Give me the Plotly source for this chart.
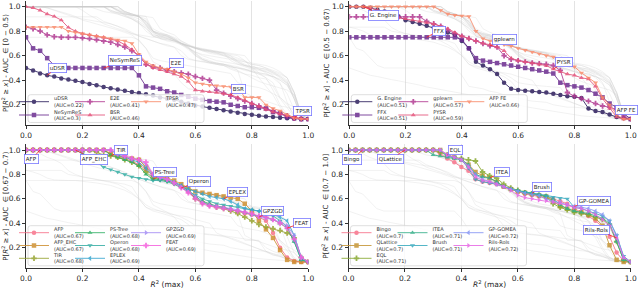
import plotly.graph_objects as go

# ---------------- data ----------------
X_GRID = [0.0, 0.025, 0.05, 0.075, 0.1, 0.125, 0.15, 0.175, 0.2, 0.225,
          0.25, 0.275, 0.3, 0.325, 0.35, 0.375, 0.4, 0.425, 0.45, 0.475,
          0.5, 0.525, 0.55, 0.575, 0.6, 0.625, 0.65, 0.675, 0.7, 0.725,
          0.75, 0.775, 0.8, 0.825, 0.85, 0.875, 0.9, 0.925, 0.95, 0.975, 1.0]
X_TICKS = [0.0, 0.2, 0.4, 0.6, 0.8, 1.0]
Y_TICKS = [0.2, 0.4, 0.6, 0.8, 1.0]

UDSR = [0.50, 0.48, 0.455, 0.44, 0.43, 0.415, 0.405, 0.395, 0.385, 0.37,
        0.36, 0.345, 0.335, 0.325, 0.315, 0.305, 0.295, 0.285, 0.275, 0.26,
        0.25, 0.24, 0.225, 0.21, 0.195, 0.185, 0.175, 0.165, 0.155, 0.145,
        0.135, 0.125, 0.118, 0.11, 0.105, 0.1, 0.095, 0.09, 0.088, 0.085, 0.083]
NESYMRES = [0.75, 0.66, 0.64, 0.58, 0.52, 0.5, 0.5, 0.5, 0.5, 0.5,
            0.5, 0.5, 0.5, 0.5, 0.5, 0.5, 0.44, 0.35, 0.34, 0.33,
            0.31, 0.3, 0.28, 0.265, 0.25, 0.24, 0.23, 0.225, 0.22, 0.2,
            0.19, 0.18, 0.18, 0.175, 0.17, 0.14, 0.13, 0.1, 0.09, 0.083, 0.083]
E2E = [0.833, 0.82, 0.8, 0.77, 0.755, 0.75, 0.75, 0.75, 0.745, 0.74,
       0.73, 0.72, 0.71, 0.69, 0.67, 0.64, 0.6, 0.53, 0.51, 0.5,
       0.48, 0.47, 0.46, 0.45, 0.43, 0.415, 0.4, 0.32, 0.295, 0.27,
       0.25, 0.23, 0.21, 0.19, 0.17, 0.15, 0.13, 0.11, 0.09, 0.083, 0.083]
BSR = [1.0, 0.99, 0.97, 0.94, 0.92, 0.89, 0.83, 0.8, 0.78, 0.77,
       0.76, 0.75, 0.735, 0.72, 0.69, 0.65, 0.6, 0.53, 0.5, 0.485,
       0.47, 0.45, 0.43, 0.39, 0.32, 0.31, 0.305, 0.3, 0.29, 0.28,
       0.26, 0.235, 0.21, 0.185, 0.16, 0.14, 0.125, 0.11, 0.1, 0.09, 0.083]
TPSR = [0.833, 0.833, 0.833, 0.833, 0.833, 0.833, 0.8, 0.79, 0.78, 0.77,
        0.76, 0.75, 0.74, 0.73, 0.72, 0.7, 0.61, 0.55, 0.52, 0.5,
        0.49, 0.47, 0.45, 0.42, 0.38, 0.37, 0.36, 0.355, 0.35, 0.345,
        0.34, 0.26, 0.26, 0.26, 0.2, 0.17, 0.15, 0.12, 0.09, 0.083, 0.083]

G_ENGINE = [1.0, 1.0, 1.0, 0.99, 0.975, 0.96, 0.94, 0.92, 0.89, 0.875,
            0.86, 0.845, 0.83, 0.81, 0.79, 0.77, 0.72, 0.66, 0.55, 0.52,
            0.49, 0.45, 0.38, 0.33, 0.32, 0.315, 0.31, 0.305, 0.3, 0.29,
            0.28, 0.27, 0.265, 0.255, 0.17, 0.15, 0.14, 0.12, 0.1, 0.09, 0.083]
FFX = [0.75, 0.75, 0.75, 0.75, 0.75, 0.75, 0.75, 0.75, 0.75, 0.75,
       0.75, 0.75, 0.75, 0.75, 0.75, 0.75, 0.73, 0.66, 0.58, 0.56,
       0.55, 0.54, 0.53, 0.52, 0.51, 0.5, 0.49, 0.48, 0.47, 0.455,
       0.38, 0.36, 0.35, 0.34, 0.32, 0.29, 0.26, 0.21, 0.18, 0.13, 0.083]
GPLEARN = [0.917, 0.917, 0.917, 0.917, 0.917, 0.917, 0.917, 0.917, 0.917, 0.917,
           0.917, 0.88, 0.86, 0.84, 0.81, 0.78, 0.76, 0.74, 0.72, 0.7,
           0.68, 0.67, 0.6, 0.57, 0.56, 0.55, 0.54, 0.535, 0.53, 0.52,
           0.48, 0.3, 0.27, 0.25, 0.23, 0.21, 0.19, 0.18, 0.16, 0.1, 0.083]
PYSR = [1.0, 1.0, 1.0, 0.99, 0.97, 0.95, 0.93, 0.91, 0.9, 0.89,
        0.88, 0.87, 0.86, 0.84, 0.82, 0.79, 0.76, 0.74, 0.72, 0.7,
        0.69, 0.67, 0.64, 0.58, 0.56, 0.55, 0.54, 0.53, 0.52, 0.49,
        0.47, 0.45, 0.44, 0.42, 0.41, 0.35, 0.25, 0.17, 0.1, 0.083, 0.083]
AFP_FE = [1.0, 1.0, 1.0, 1.0, 1.0, 1.0, 1.0, 1.0, 1.0, 1.0,
          1.0, 1.0, 1.0, 0.97, 0.94, 0.93, 0.925, 0.92, 0.8, 0.74,
          0.72, 0.71, 0.69, 0.68, 0.66, 0.645, 0.63, 0.615, 0.6, 0.59,
          0.56, 0.53, 0.51, 0.46, 0.42, 0.38, 0.26, 0.2, 0.12, 0.083, 0.083]

AFP = [1.0, 1.0, 1.0, 1.0, 1.0, 1.0, 1.0, 1.0, 1.0, 1.0,
       1.0, 1.0, 0.97, 0.95, 0.93, 0.91, 0.88, 0.84, 0.79, 0.77,
       0.76, 0.73, 0.7, 0.66, 0.61, 0.57, 0.55, 0.54, 0.53, 0.51,
       0.5, 0.48, 0.47, 0.45, 0.42, 0.32, 0.2, 0.12, 0.09, 0.083, 0.083]
AFP_EHC = [1.0, 1.0, 1.0, 1.0, 1.0, 1.0, 1.0, 1.0, 1.0, 1.0,
           1.0, 1.0, 0.97, 0.95, 0.94, 0.93, 0.92, 0.86, 0.8, 0.78,
           0.77, 0.75, 0.72, 0.69, 0.66, 0.65, 0.64, 0.63, 0.62, 0.61,
           0.6, 0.56, 0.5, 0.42, 0.35, 0.28, 0.18, 0.1, 0.083, 0.083, 0.083]
TIR = [1.0, 1.0, 1.0, 1.0, 1.0, 1.0, 1.0, 1.0, 1.0, 1.0,
       0.98, 0.96, 0.95, 0.94, 0.92, 0.9, 0.87, 0.82, 0.77, 0.76,
       0.75, 0.73, 0.7, 0.67, 0.6, 0.57, 0.55, 0.53, 0.52, 0.5,
       0.48, 0.45, 0.42, 0.39, 0.37, 0.355, 0.34, 0.32, 0.28, 0.12, 0.083]
PS_TREE = [1.0, 1.0, 1.0, 1.0, 1.0, 1.0, 1.0, 1.0, 1.0, 1.0,
           1.0, 1.0, 0.96, 0.94, 0.92, 0.9, 0.87, 0.8, 0.76, 0.76,
           0.75, 0.73, 0.7, 0.67, 0.62, 0.58, 0.56, 0.54, 0.53, 0.51,
           0.5, 0.49, 0.47, 0.46, 0.45, 0.43, 0.4, 0.36, 0.25, 0.1, 0.083]
OPERON = [1.0, 1.0, 1.0, 1.0, 1.0, 1.0, 1.0, 1.0, 0.97, 0.93,
          0.9, 0.86, 0.84, 0.82, 0.8, 0.78, 0.77, 0.76, 0.75, 0.75,
          0.74, 0.72, 0.69, 0.66, 0.63, 0.6, 0.58, 0.56, 0.55, 0.54,
          0.53, 0.52, 0.51, 0.5, 0.49, 0.46, 0.42, 0.37, 0.25, 0.1, 0.083]
EPLEX = [1.0, 1.0, 1.0, 1.0, 1.0, 1.0, 1.0, 1.0, 1.0, 1.0,
         1.0, 1.0, 1.0, 0.96, 0.94, 0.92, 0.9, 0.85, 0.79, 0.77,
         0.76, 0.74, 0.71, 0.68, 0.66, 0.64, 0.62, 0.61, 0.6, 0.58,
         0.55, 0.52, 0.51, 0.5, 0.49, 0.47, 0.45, 0.42, 0.3, 0.12, 0.083]
GPZGD = [1.0, 1.0, 1.0, 1.0, 1.0, 1.0, 1.0, 1.0, 1.0, 1.0,
         1.0, 1.0, 1.0, 0.97, 0.95, 0.93, 0.92, 0.88, 0.8, 0.77,
         0.76, 0.73, 0.7, 0.66, 0.62, 0.57, 0.55, 0.54, 0.53, 0.52,
         0.51, 0.49, 0.47, 0.45, 0.44, 0.43, 0.41, 0.38, 0.3, 0.12, 0.083]
FEAT = [1.0, 1.0, 1.0, 1.0, 1.0, 1.0, 1.0, 1.0, 1.0, 1.0,
        1.0, 1.0, 1.0, 0.97, 0.95, 0.93, 0.92, 0.9, 0.8, 0.78,
        0.76, 0.73, 0.69, 0.65, 0.6, 0.56, 0.54, 0.53, 0.52, 0.51,
        0.5, 0.49, 0.48, 0.46, 0.45, 0.43, 0.4, 0.36, 0.27, 0.12, 0.083]

BINGO = [1.0, 1.0, 1.0, 1.0, 1.0, 1.0, 1.0, 1.0, 1.0, 1.0,
         1.0, 1.0, 1.0, 0.97, 0.93, 0.9, 0.86, 0.83, 0.76, 0.74,
         0.73, 0.72, 0.7, 0.68, 0.66, 0.64, 0.63, 0.62, 0.61, 0.6,
         0.58, 0.56, 0.52, 0.49, 0.46, 0.42, 0.37, 0.29, 0.16, 0.09, 0.083]
QLATTICE = [1.0, 1.0, 1.0, 1.0, 1.0, 1.0, 1.0, 1.0, 1.0, 1.0,
            1.0, 1.0, 1.0, 1.0, 0.96, 0.94, 0.92, 0.88, 0.82, 0.79,
            0.77, 0.74, 0.7, 0.68, 0.66, 0.65, 0.64, 0.63, 0.62, 0.58,
            0.54, 0.52, 0.5, 0.49, 0.47, 0.44, 0.38, 0.22, 0.1, 0.083, 0.083]
EQL = [1.0, 1.0, 1.0, 1.0, 1.0, 1.0, 1.0, 1.0, 1.0, 1.0,
       1.0, 1.0, 1.0, 0.98, 0.96, 0.94, 0.93, 0.92, 0.91, 0.82,
       0.79, 0.77, 0.72, 0.69, 0.67, 0.65, 0.64, 0.63, 0.62, 0.56,
       0.53, 0.51, 0.49, 0.48, 0.47, 0.45, 0.43, 0.39, 0.25, 0.1, 0.083]
ITEA = [1.0, 1.0, 1.0, 1.0, 1.0, 1.0, 1.0, 1.0, 1.0, 1.0,
        1.0, 1.0, 0.96, 0.95, 0.94, 0.93, 0.92, 0.88, 0.8, 0.78,
        0.77, 0.74, 0.7, 0.68, 0.67, 0.655, 0.645, 0.635, 0.625, 0.6,
        0.55, 0.52, 0.5, 0.49, 0.48, 0.46, 0.44, 0.4, 0.25, 0.1, 0.083]
BRUSH = [1.0, 1.0, 1.0, 1.0, 1.0, 1.0, 1.0, 1.0, 1.0, 1.0,
         1.0, 1.0, 1.0, 1.0, 0.95, 0.94, 0.92, 0.85, 0.76, 0.74,
         0.73, 0.72, 0.7, 0.68, 0.665, 0.655, 0.645, 0.635, 0.625, 0.615,
         0.605, 0.6, 0.53, 0.52, 0.5, 0.48, 0.46, 0.42, 0.3, 0.13, 0.083]
GP_GOMEA = [1.0, 1.0, 1.0, 1.0, 1.0, 1.0, 1.0, 1.0, 1.0, 1.0,
            1.0, 1.0, 1.0, 1.0, 0.96, 0.94, 0.92, 0.87, 0.8, 0.76,
            0.74, 0.72, 0.7, 0.68, 0.66, 0.645, 0.635, 0.625, 0.6, 0.58,
            0.57, 0.55, 0.54, 0.53, 0.52, 0.5, 0.47, 0.42, 0.3, 0.12, 0.083]
RILS_ROLS = [1.0, 1.0, 1.0, 1.0, 1.0, 1.0, 1.0, 1.0, 1.0, 1.0,
             1.0, 1.0, 1.0, 1.0, 0.96, 0.94, 0.92, 0.86, 0.78, 0.75,
             0.74, 0.72, 0.7, 0.67, 0.63, 0.61, 0.6, 0.59, 0.585, 0.575,
             0.565, 0.55, 0.53, 0.52, 0.5, 0.47, 0.43, 0.38, 0.28, 0.12, 0.083]

GROUP_NAMES = [
    ["uDSR", "NeSymReS", "E2E", "BSR", "TPSR"],
    ["G. Engine", "FFX", "gplearn", "PYSR", "AFP FE"],
    ["AFP", "AFP_EHC", "TIR", "PS-Tree", "Operon", "EPLEX", "GPZGD", "FEAT"],
    ["Bingo", "QLattice", "EQL", "ITEA", "Brush", "GP-GOMEA", "Rils-Rols"],
]
GROUP_VALUES = [
    [UDSR, NESYMRES, E2E, BSR, TPSR],
    [G_ENGINE, FFX, GPLEARN, PYSR, AFP_FE],
    [AFP, AFP_EHC, TIR, PS_TREE, OPERON, EPLEX, GPZGD, FEAT],
    [BINGO, QLATTICE, EQL, ITEA, BRUSH, GP_GOMEA, RILS_ROLS],
]
GROUP_AUC = [
    [0.22, 0.3, 0.41, 0.46, 0.47],
    [0.51, 0.51, 0.57, 0.59, 0.66],
    [0.67, 0.67, 0.68, 0.68, 0.68, 0.69, 0.69, 0.69],
    [0.7, 0.7, 0.71, 0.71, 0.71, 0.72, 0.72],
]
GROUP_RANGES = ["[0 \u2212 0.5)", "[0.5 \u2212 0.67)", "[0.67 \u2212 0.7)", "[0.7 \u2212 1.0]"]

# ---------------- styles / layout ----------------
COLORS = [
    ["#2d1f5e", "#6b2c8f", "#b23a92", "#e4527a", "#f98a6a"],
    ["#2d1f5e", "#6b2c8f", "#b23a92", "#e4527a", "#f98a6a"],
    ["#f77189", "#ce9032", "#97a431", "#32b166", "#36ada4", "#39a7d0", "#a48cf4", "#f561dd"],
    ["#f77189", "#c59534", "#88a931", "#34af89", "#38aabe", "#8595f4", "#e767e4"],
]
SYMBOLS = ["circle", "square", "cross", "triangle-up", "triangle-down",
           "triangle-left", "triangle-right", "cross"]

LABEL_IDX = [[3, 11, 20, 29, 38], [2, 11, 20, 29, 38],
             [2, 7, 12, 18, 22, 28, 33, 37], [2, 8, 14, 20, 26, 32, 38]]
LABEL_BOX = [
    [(0.11, 0.50), (0.35, 0.557), (0.534, 0.543), (0.752, 0.33), (0.98, 0.15)],
    [(0.121, 0.927), (0.319, 0.805), (0.551, 0.73), (0.764, 0.548), (0.985, 0.16)],
    [(0.02, 0.926), (0.242, 0.926), (0.335, 1.0), (0.492, 0.817), (0.614, 0.74),
     (0.749, 0.653), (0.872, 0.503), (0.979, 0.405)],
    [(0.014, 0.926), (0.148, 0.926), (0.378, 1.0), (0.543, 0.817), (0.687, 0.694),
     (0.87, 0.585), (0.88, 0.345)],
]

W, H = 640, 289
PANEL_X = [(26.0, 308.3), (349.3, 630.7), (26.0, 308.3), (348.5, 630.7)]
PANEL_Y = [(1.0, 125.0), (1.0, 125.0), (144.4, 267.8), (144.4, 267.8)]
LEG_ROWS = [[101.7, 115.0], [101.7, 115.0], [232.7, 245.5, 258.3], [232.7, 245.5, 258.3]]
LEG_COLS = [8.0, 64.0, 120.0]
FONT = "DejaVu Sans"

fig = go.Figure()
layout = dict(width=W, height=H, margin=dict(l=0, r=0, t=0, b=0),
              paper_bgcolor="white", plot_bgcolor="white",
              font=dict(family=FONT, color="#262626"), showlegend=True)
annotations = []
shapes = []
legend_counter = 0

for p in range(4):
    sfx = "" if p == 0 else str(p + 1)
    xa, ya = "x" + sfx, "y" + sfx
    for q in range(4):
        if q == p:
            continue
        for vals in GROUP_VALUES[q]:
            fig.add_trace(go.Scatter(x=X_GRID, y=vals, mode="lines",
                                     line=dict(color="#cccccc", width=0.6),
                                     opacity=0.45, showlegend=False, hoverinfo="skip",
                                     xaxis=xa, yaxis=ya))
    names = GROUP_NAMES[p]
    n = len(names)
    base, extra = n // 3, n % 3
    col_sizes = [base + (1 if c < extra else 0) for c in range(3)]
    positions = []
    for c in range(3):
        for r in range(col_sizes[c]):
            positions.append((c, r))
    for i, name in enumerate(names):
        legend_counter += 1
        lname = "legend" if legend_counter == 1 else "legend%d" % legend_counter
        vals = GROUP_VALUES[p][i]
        col = COLORS[p][i]
        fig.add_trace(go.Scatter(
            x=X_GRID, y=vals, mode="lines+markers", name="%s<br>(AUC=%s)" % (name, GROUP_AUC[p][i]),
            line=dict(color=col, width=1.0),
            marker=dict(symbol=SYMBOLS[i], size=4.5, color=col, line=dict(width=0)),
            opacity=0.85, xaxis=xa, yaxis=ya, legend=lname))
        c, r = positions[i]
        mx = PANEL_X[p][0] + LEG_COLS[c]
        my = LEG_ROWS[p][r]
        layout[lname] = dict(x=(mx - 20) / W, y=1 - my / H, xanchor="left", yanchor="middle",
                             bgcolor="rgba(0,0,0,0)", borderwidth=0, itemwidth=30,
                             font=dict(size=5, family=FONT, color="#333333"))
        k = LABEL_IDX[p][i]
        bx, by = LABEL_BOX[p][i]
        annotations.append(dict(
            x=X_GRID[k], y=vals[k], xref=xa, yref=ya, ax=bx, ay=by, axref=xa, ayref=ya,
            text=name, showarrow=True, arrowhead=0, arrowwidth=0.8, arrowcolor="#ff2020",
            standoff=0, startstandoff=0,
            font=dict(size=5.5, family=FONT, color="#222222"),
            bgcolor="white", bordercolor="#7a7aff", borderwidth=0.8, borderpad=1))
    fl = PANEL_X[p][0] + 2
    fr = fl + 176
    ft = LEG_ROWS[p][0] - 7
    fb = LEG_ROWS[p][-1] + 7.5
    rx, ry = 2.5 / W, 2.5 / H
    x0, x1, y0, y1 = fl / W, fr / W, 1 - fb / H, 1 - ft / H
    path = ("M %f,%f L %f,%f Q %f,%f %f,%f L %f,%f Q %f,%f %f,%f L %f,%f Q %f,%f %f,%f "
            "L %f,%f Q %f,%f %f,%f Z") % (
        x0 + rx, y0, x1 - rx, y0, x1, y0, x1, y0 + ry, x1, y1 - ry, x1, y1, x1 - rx, y1,
        x0 + rx, y1, x0, y1, x0, y1 - ry, x0, y0 + ry, x0, y0, x0 + rx, y0)
    shapes.append(dict(type="path", path=path, xref="paper", yref="paper", layer="above",
                       fillcolor="rgba(255,255,255,0.8)", line=dict(color="#d6d6d6", width=0.8)))

    bottom = p >= 2
    xaxis = dict(
        domain=[PANEL_X[p][0] / W, PANEL_X[p][1] / W], anchor=ya, range=[0, 1.0],
        tickvals=X_TICKS, ticktext=["%.1f" % t for t in X_TICKS],
        showgrid=True, gridcolor="#e3e3e3", gridwidth=0.8, zeroline=False,
        showline=True, linecolor="#333333", linewidth=0.8,
        ticks="outside", ticklen=3, tickwidth=0.8, tickcolor="#333333",
        tickfont=dict(size=7.5, family=FONT, color="#262626"),
        automargin=False)
    if bottom:
        xaxis["title"] = dict(text="<i>R</i><sup>2</sup> (max)",
                              font=dict(size=7.5, family=FONT, color="#262626"), standoff=1)
    layout["xaxis" + sfx] = xaxis
    layout["yaxis" + sfx] = dict(
        domain=[1 - PANEL_Y[p][1] / H, 1 - PANEL_Y[p][0] / H], anchor=xa, range=[0.035, 1.046],
        tickvals=Y_TICKS, ticktext=["%.1f" % t for t in Y_TICKS],
        showgrid=False, zeroline=False, showline=True, linecolor="#333333", linewidth=0.8,
        ticks="outside", ticklen=3, tickwidth=0.8, tickcolor="#333333",
        tickfont=dict(size=7.5, family=FONT, color="#262626"),
        title=dict(text="P[<i>R</i><sup>2</sup> \u2265 <i>x</i>] - AUC  \u2208 " + GROUP_RANGES[p],
                   font=dict(size=7, family=FONT, color="#262626"), standoff=1),
        automargin=False)

layout["annotations"] = annotations
layout["shapes"] = shapes
fig.update_layout(**layout)
fig.write_html("out.html", config={"displayModeBar": False},
               post_script="document.body.style.margin='0';document.body.style.overflow='hidden';")
